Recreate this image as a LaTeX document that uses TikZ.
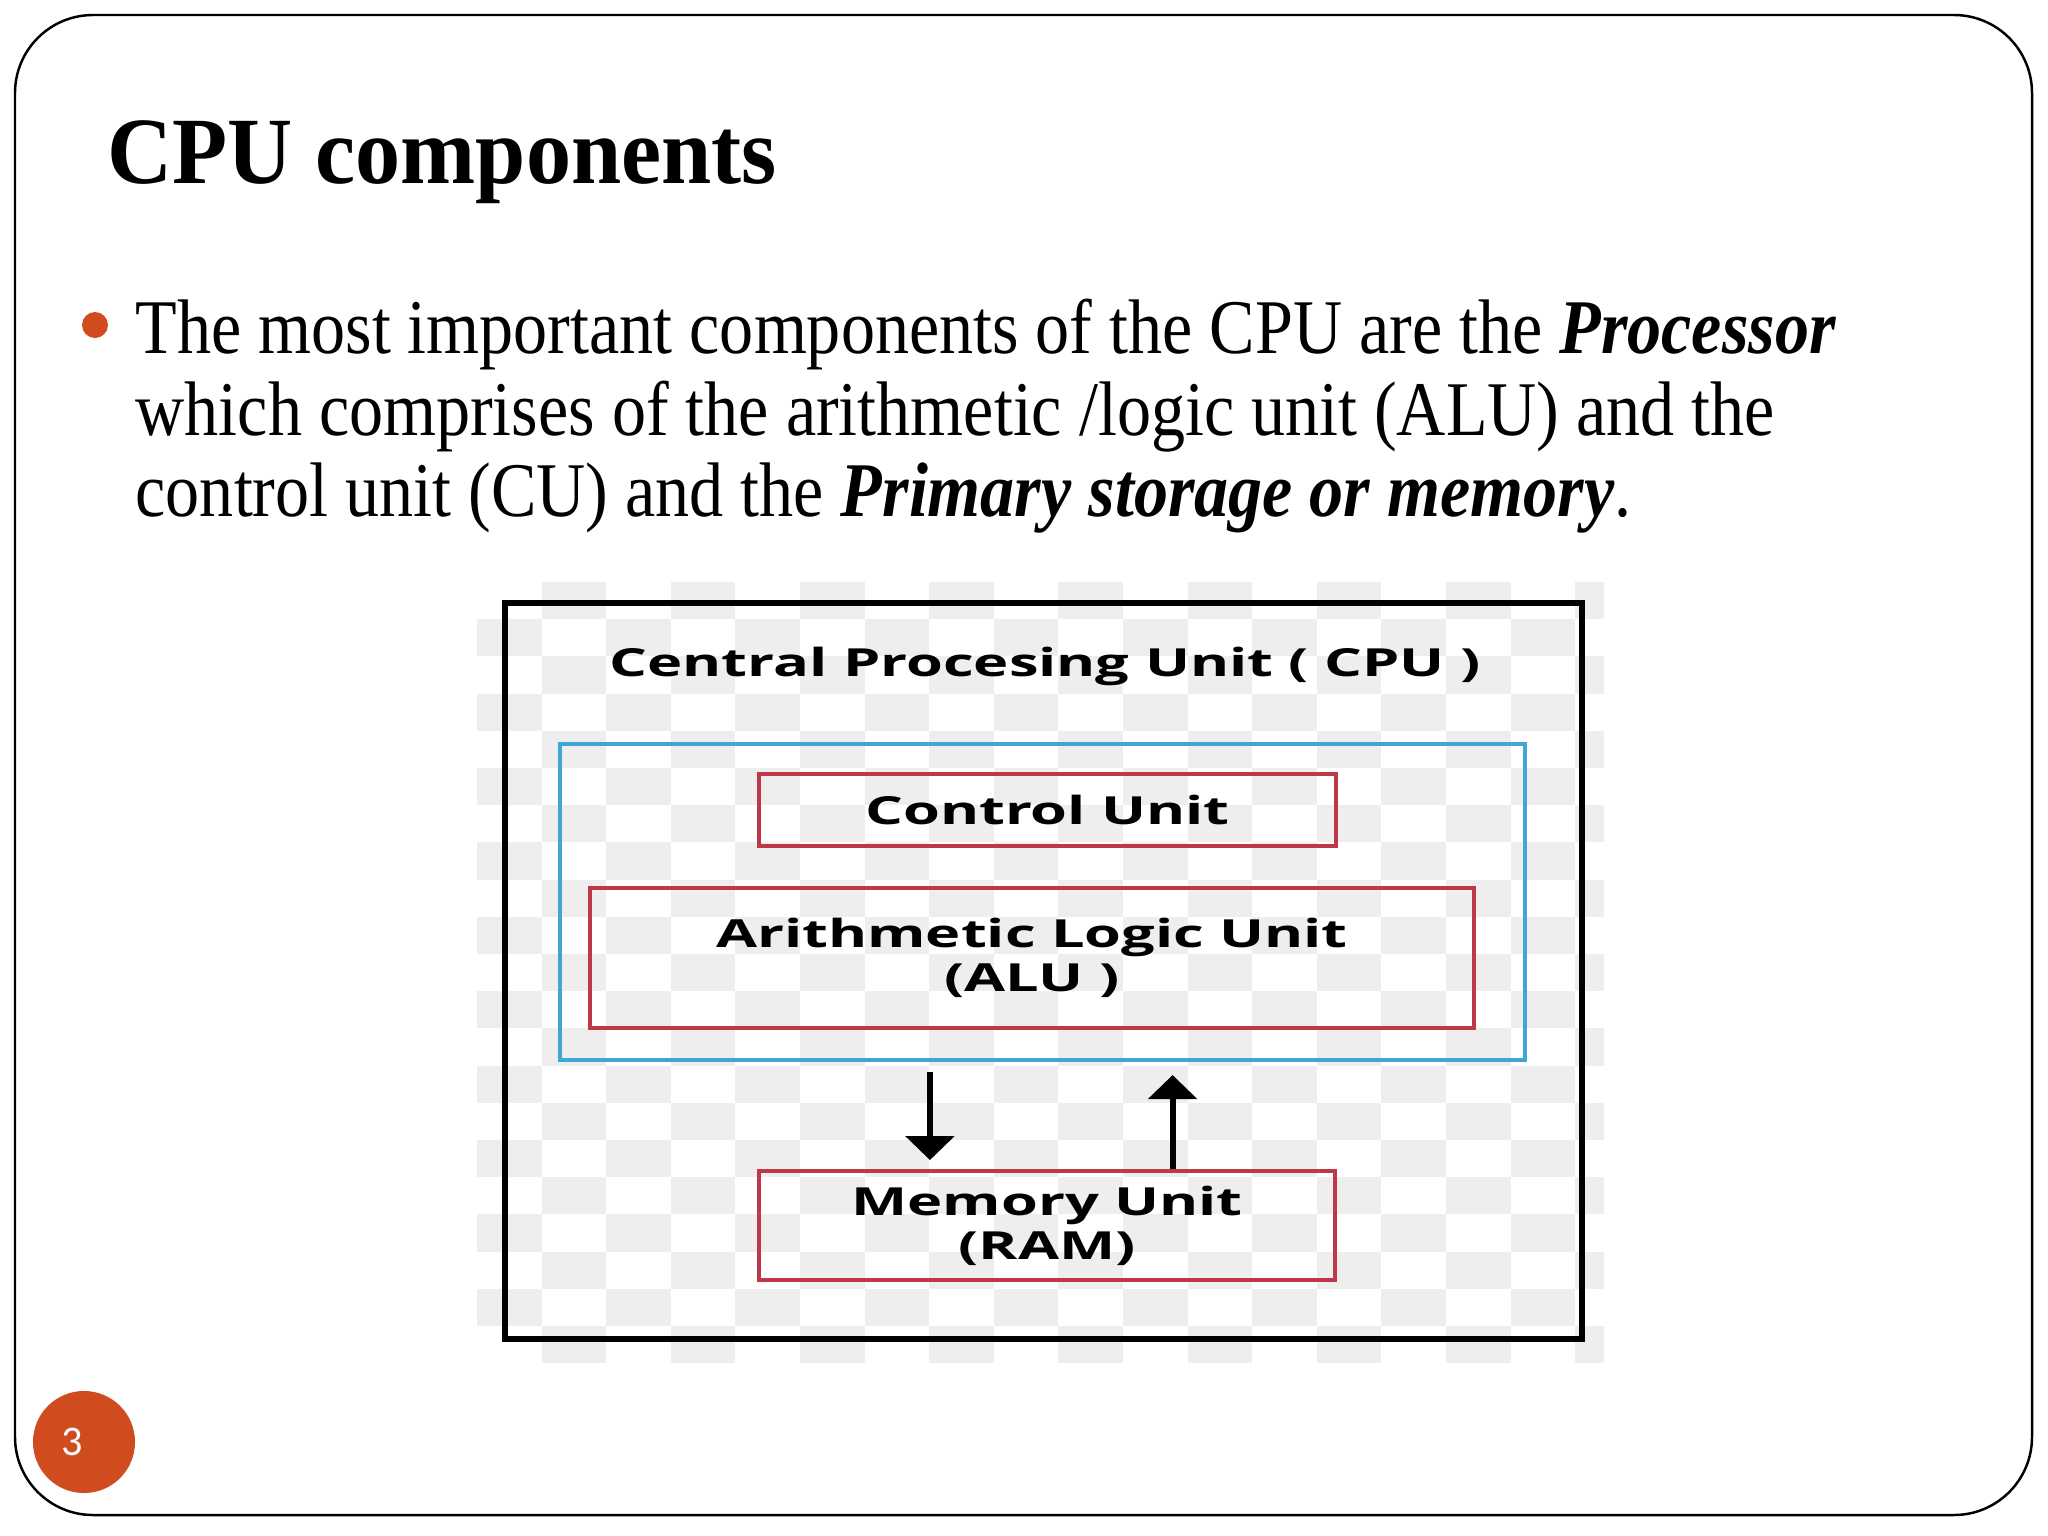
\documentclass[tikz,border=0pt]{standalone}
\usepackage{fontspec}
\setmainfont[FakeStretch=0.88]{Liberation Serif}
\newfontfamily\titlefont[FakeStretch=0.95]{Liberation Serif}
\newfontfamily\diagfont[FakeStretch=1.54]{Open Sans}
\newfontfamily\numfont{Carlito}
\usetikzlibrary{arrows.meta}

\definecolor{slideorange}{RGB}{208,76,30}
\definecolor{procblue}{RGB}{64,166,214}
\definecolor{unitred}{RGB}{190,56,72}
\definecolor{checkgray}{RGB}{238,238,238}

\begin{document}
\begin{tikzpicture}[
  x=0.01cm, y=-0.01cm,
  frame/.style={draw=black, line width=0.7pt, rounded corners=0.78cm},
  bodytext/.style={anchor=base west, inner sep=0pt, font=\fontsize{22}{24}\selectfont},
  cpubox/.style={rectangle, draw=black, line width=1.7pt, inner sep=0pt},
  procbox/.style={rectangle, draw=procblue, line width=1.1pt, inner sep=0pt},
  unit/.style={rectangle, draw=unitred, line width=1.1pt, inner sep=0pt, align=center,
               font=\diagfont\bfseries\fontsize{11}{12.5}\selectfont},
  flow/.style={line width=1.7pt, -{Triangle[width=0.48cm, length=0.24cm]}}
]
  \useasboundingbox (0,0) rectangle (2048,1536);

  % ── Slide frame and header ─────────────────────────────────────────────
  \draw[frame] (15,15) rectangle (2032,1515);
  \node[anchor=base west, inner sep=0pt, font=\titlefont\fontsize{27}{30}\selectfont\bfseries]
       (title) at (107,183) {CPU components};

  % ── Bullet text ────────────────────────────────────────────────────────
  \fill[slideorange] (95,325) circle (13);
  \node[bodytext] (line1) at (135,353)
       {The most important components of the CPU are the \textbf{\textit{Processor}}};
  \node[bodytext] (line2) at (135,435)
       {which comprises of the arithmetic /logic unit (ALU) and the};
  \node[bodytext] (line3) at (135,516)
       {control unit (CU) and the \textbf{\textit{Primary storage or memory}}.};

  % ── Checkered backdrop of the figure ───────────────────────────────────
  \begin{scope}
    \clip (477,582) rectangle (1604,1364);
    \foreach \i in {0,...,17} {
      \foreach \j in {0,...,20} {
        \ifodd\numexpr\i+\j\relax
          \fill[checkgray] ({477+\i*64.6},{582+\j*37.2}) rectangle ++(64.6,37.2);
        \fi
      }
    }
  \end{scope}

  % ── CPU block ──────────────────────────────────────────────────────────
  \node[cpubox, minimum width=10.77cm, minimum height=7.36cm] (cpu) at (1043.5,971) {};
  \node[font=\diagfont\bfseries\fontsize{11}{12.5}\selectfont] (cpulabel) at (1045,666)
       {Central Procesing Unit ( CPU )};
  \node[procbox, minimum width=9.65cm, minimum height=3.16cm] (proc) at (1042.5,902) {};
  \node[unit, minimum width=5.77cm, minimum height=0.72cm] (cu)  at (1047.5,810) {Control Unit};
  \node[unit, minimum width=8.84cm, minimum height=1.40cm] (alu) at (1032,958)
       {Arithmetic Logic Unit\\(ALU )};
  \node[unit, minimum width=5.76cm, minimum height=1.09cm] (mem) at (1047,1225.5)
       {Memory Unit\\(RAM)};

  % ── Data flow ──────────────────────────────────────────────────────────
  \draw[flow, shorten <=0.10cm, shorten >=0.09cm]
       ([xshift=-1.125cm]proc.south) -- ([xshift=-1.125cm]proc.south |- mem.north);
  \draw[flow, shorten >=0.13cm]
       ([xshift=1.30cm]proc.south |- mem.north) -- ([xshift=1.30cm]proc.south);

  % ── Page number ────────────────────────────────────────────────────────
  \node[circle, fill=slideorange, minimum size=1.02cm, inner sep=0pt, text=white,
        font=\numfont\fontsize{12}{14}\selectfont] (pagenum) at (84,1442) {3\hspace*{0.24cm}};
\end{tikzpicture}
\end{document}
